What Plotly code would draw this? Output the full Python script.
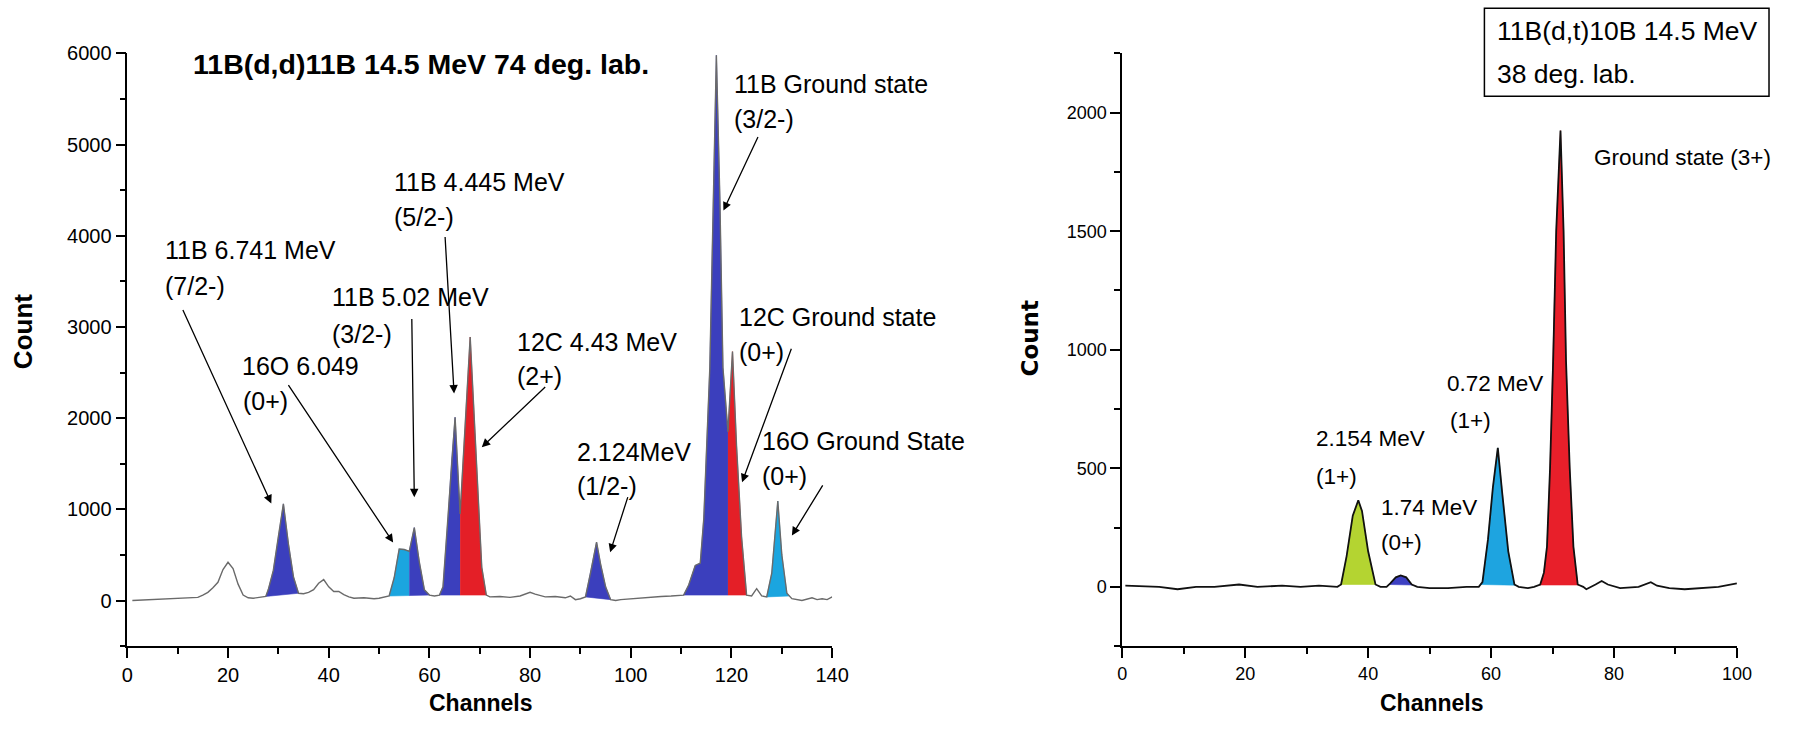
import numpy as np
import plotly.graph_objects as go

# page is 1803x735; the default 8px body margin surrounds the figure
PAGE_W, PAGE_H, PAD = 1803, 735, 8
W, H = PAGE_W - 2 * PAD, PAGE_H - 2 * PAD

# ---------------- 11B(d,d)11B spectrum (left panel) ----------------
dd_channel = [1, 3, 5, 8, 10, 12, 14, 15, 16, 17, 18, 19, 20, 21, 22, 23, 24, 25, 26, 27,
              27.5, 28, 29, 30, 31, 32, 33, 34, 35, 36, 37, 38, 39, 40, 41, 42, 43, 44, 45,
              47, 49, 50, 51, 52, 53, 54, 55, 56, 57, 58, 59, 60, 61, 62, 62.7, 63.7, 64.4,
              65.1, 66.1, 68.1, 69.4, 70.4, 71.3, 72, 74, 76, 78, 80, 81, 83, 85, 87, 88, 89,
              90, 91, 92, 93.2, 94, 95, 96, 97, 98, 100, 102, 104, 106, 108, 110.5, 111.5,
              112.8, 113.8, 114.5, 115.7, 116.4, 117, 117.7, 118.3, 119.3, 120.2, 121, 122,
              123, 124, 125, 126, 127, 128, 129.2, 130, 131, 132, 134, 136, 137, 138, 139, 140]
dd_count = [0, 5, 10, 15, 20, 25, 35, 60, 90, 140, 200, 340, 420, 350, 180, 60, 30, 25, 30, 35,
            45, 120, 330, 700, 1060, 620, 260, 80, 75, 90, 120, 190, 230, 150, 100, 100, 65, 40, 25,
            30, 20, 25, 35, 50, 250, 565, 560, 540, 800, 420, 120, 60, 50, 60, 150, 910, 1530,
            2010, 950, 2890, 1460, 365, 60, 40, 45, 35, 50, 90, 70, 40, 45, 30, 50, 10,
            20, 40, 300, 640, 400, 150, 10, 0, 10, 20, 30, 40, 45, 50, 60, 170,
            385, 410, 900, 2555, 4385, 5980, 4385, 2555, 1850, 2730, 1700, 700,
            60, 50, 130, 50, 40, 300, 1090, 500, 80, 20, 0, 30, 10, 20, 10, 40]

# shaded peaks: groups of adjacent (start, end, colour) channel ranges
BLUE, RED, CYAN = "#3b3fbd", "#e41f27", "#1ba5df"
dd_peaks = [
    [(27.5, 34, BLUE)],
    [(52, 56, CYAN), (56, 60, BLUE)],
    [(62, 66.1, BLUE), (66.1, 71.3, RED)],
    [(91, 96, BLUE)],
    [(110.5, 119.3, BLUE), (119.3, 123, RED)],
    [(127, 131.5, CYAN)],
]

# ---------------- 11B(d,t)10B spectrum (right panel) ----------------
dt_channel = [0.5, 3, 6, 9, 12, 15, 19, 22, 26, 29, 32, 35, 35.6, 36.5, 37.5, 38.4, 39, 40, 41.2,
              42, 43, 43.6, 44.5, 45.3, 46.2, 47.1, 48, 50, 53, 56, 58, 58.6, 59.5, 60.3, 61.1,
              61.8, 62.8, 63.8, 64.5, 66, 67, 68, 68.6, 69.1, 69.6, 70.1, 70.6, 71.3, 71.8,
              72.2, 72.8, 73.4, 74.1, 75, 75.5, 77, 78, 79, 81, 84, 86, 87, 89, 91.5, 94, 97, 100]
dt_count = [5, 2, 0, -10, 0, 0, 10, 0, 5, 0, 5, 0, 10, 130, 300, 365, 320, 150, 10,
            0, 0, 15, 40, 48, 40, 10, 0, -5, -5, 0, 0, 20, 200, 420, 586,
            400, 150, 10, 0, -5, 0, 10, 60, 170, 500, 950, 1500, 1924, 1500,
            950, 500, 170, 10, 0, -10, 10, 25, 10, -5, 0, 20, 5, -5, -10, -5, 0, 15]

dt_peaks = [
    [(35.6, 41.2, "#b4d431")],
    [(43.4, 47.3, "#3d40c2")],
    [(58.3, 64.0, "#1ea4e0")],
    [(67.8, 74.3, "#e81f2a")],
]

# arrows: (head channel, head count, tail channel, tail count)
dd_arrows = [
    (28.6, 1064, 10.9, 3202),
    (52.8, 636, 31.8, 2379),
    (57.0, 1133, 56.5, 3103),
    (64.9, 2270, 63.1, 4002),
    (70.4, 1681, 83.3, 2357),
    (118.4, 4276, 125.4, 5099),
    (122.1, 1297, 132.0, 2777),
    (95.9, 530, 99.5, 1151),
    (132.0, 713, 138.3, 1280),
]

FONT = "Liberation Sans, Arial, sans-serif"


def peak_polygons(ch, cnt, groups):
    ch = np.asarray(ch, float)
    cnt = np.asarray(cnt, float)
    out = []
    for group in groups:
        ga, gb = group[0][0], group[-1][1]
        ya, yb = np.interp(ga, ch, cnt), np.interp(gb, ch, cnt)

        def floor(c):
            return ya + (yb - ya) * (c - ga) / (gb - ga)

        for a, b, col in group:
            inner = (ch > a) & (ch < b)
            xs = [a] + list(ch[inner]) + [b, b, a]
            ys = ([np.interp(a, ch, cnt)] + list(cnt[inner]) +
                  [np.interp(b, ch, cnt), floor(b), floor(a)])
            out.append((xs, ys, col))
    return out


fig = go.Figure()

for xs, ys, col in peak_polygons(dd_channel, dd_count, dd_peaks):
    fig.add_trace(go.Scatter(x=xs, y=ys, fill="toself", fillcolor=col, mode="lines",
                             line=dict(width=0.6, color=col), hoverinfo="skip",
                             xaxis="x", yaxis="y", showlegend=False))
fig.add_trace(go.Scatter(x=dd_channel, y=dd_count, mode="lines",
                         line=dict(color="#6a6a6a", width=1.4), xaxis="x", yaxis="y",
                         showlegend=False))

for xs, ys, col in peak_polygons(dt_channel, dt_count, dt_peaks):
    fig.add_trace(go.Scatter(x=xs, y=ys, fill="toself", fillcolor=col, mode="lines",
                             line=dict(width=0.6, color=col), hoverinfo="skip",
                             xaxis="x2", yaxis="y2", showlegend=False))
fig.add_trace(go.Scatter(x=dt_channel, y=dt_count, mode="lines",
                         line=dict(color="#111111", width=1.8), xaxis="x2", yaxis="y2",
                         showlegend=False))


def PX(x):
    """page x pixel -> paper fraction"""
    x = min(x * 1.0134 + 1.8, PAGE_W - PAD - 1)
    return (x - PAD) / W


def PY(y):
    """page y pixel (from top) -> paper fraction"""
    y = y * 1.0152 - 2.8
    return 1 - (y - PAD) / H


def label(text, x, y, size, bold=False, family=FONT, anchor="left", angle=0):
    return dict(x=PX(x), y=PY(y), xref="paper", yref="paper",
                text=f"<b>{text}</b>" if bold else text,
                showarrow=False, xanchor=anchor, yanchor="middle", textangle=angle,
                font=dict(family=family, size=size, color="black"))


ann = []
# left panel labels
ann.append(label("11B(d,d)11B 14.5 MeV 74 deg. lab.", 191, 64, 28.5, bold=True))
left_labels = [
    ("11B 6.741 MeV", 163, 250), ("(7/2-)", 163, 286),
    ("11B 5.02 MeV", 330, 297), ("(3/2-)", 330, 334),
    ("11B 4.445 MeV", 392, 182), ("(5/2-)", 392, 217),
    ("16O 6.049", 240, 366), ("(0+)", 241, 401),
    ("12C 4.43 MeV", 515, 342), ("(2+)", 515, 376),
    ("11B Ground state", 732, 84), ("(3/2-)", 732, 119),
    ("12C Ground state", 737, 317), ("(0+)", 737, 352),
    ("2.124MeV", 575, 452), ("(1/2-)", 575, 486),
    ("16O Ground State", 760, 441), ("(0+)", 760, 476),
]
for t, x, y in left_labels:
    ann.append(label(t, x, y, 25))

for hx, hy, tx, ty in dd_arrows:
    ann.append(dict(x=hx, y=hy, ax=tx, ay=ty, xref="x", yref="y", axref="x", ayref="y",
                    text="", showarrow=True, arrowhead=2, arrowsize=1.3, arrowwidth=1.3,
                    arrowcolor="black", standoff=0, startstandoff=0))

# right panel labels
right_labels = [
    ("Ground state (3+)", 1592, 157),
    ("0.72 MeV", 1445, 383), ("(1+)", 1448, 420),
    ("2.154 MeV", 1314, 438), ("(1+)", 1314, 476),
    ("1.74 MeV", 1379, 507), ("(0+)", 1379, 542),
]
for t, x, y in right_labels:
    ann.append(label(t, x, y, 22.5))
ann.append(label("11B(d,t)10B 14.5 MeV", 1495, 31, 26.5))
ann.append(label("38 deg. lab.", 1495, 74, 26.5))

# axis titles
ann.append(label("Count", 23, 331, 26, bold=True, anchor="center", angle=-90))
ann.append(label("Channels", 481, 703, 23, bold=True, anchor="center"))
ann.append(label("Count", 1030, 338, 23, bold=True, family="DejaVu Sans, sans-serif",
                 anchor="center", angle=-90))
ann.append(label("Channels", 1432, 703, 23, bold=True, anchor="center"))

x1a, x1b = PX(127.4), PX(832)
x2a, x2b = PX(1122), PX(1736.4)
ya, yb = PY(646), PY(53)

axis_common = dict(showline=True, linecolor="black", ticks="outside", tickcolor="black",
                   showgrid=False, zeroline=False, tickformat="d", ticklen=10, tickwidth=1.5)

fig.update_layout(
    width=W, height=H, margin=dict(l=0, r=0, t=0, b=0),
    paper_bgcolor="white", plot_bgcolor="white", showlegend=False,
    annotations=ann,
    shapes=[dict(type="rect", xref="paper", yref="paper",
                 x0=PX(1484), x1=PX(1799), y0=PY(96), y1=PY(8),
                 line=dict(color="black", width=1.5), fillcolor="white", layer="below")],
    xaxis=dict(domain=[x1a, x1b], range=[0, 140], anchor="y", tick0=0, dtick=20,
               linewidth=2.2, minor=dict(dtick=10, ticklen=6, ticks="outside",
                                         tickcolor="black", tickwidth=1.5),
               tickfont=dict(family=FONT, size=20, color="black"), **axis_common),
    yaxis=dict(domain=[ya, yb], range=[-500, 6000], anchor="x", tick0=0, dtick=1000,
               linewidth=1.6, minor=dict(dtick=500, ticklen=6, ticks="outside",
                                         tickcolor="black", tickwidth=1.5),
               tickfont=dict(family=FONT, size=20, color="black"), **axis_common),
    xaxis2=dict(domain=[x2a, x2b], range=[0, 100], anchor="y2", tick0=0, dtick=20,
                linewidth=2.4, minor=dict(dtick=10, ticklen=6, ticks="outside",
                                          tickcolor="black", tickwidth=1.5),
                tickfont=dict(family=FONT, size=18, color="black"), **axis_common),
    yaxis2=dict(domain=[ya, yb], range=[-250, 2250], anchor="x2", tick0=0, dtick=500,
                linewidth=1.6, minor=dict(dtick=250, ticklen=6, ticks="outside",
                                          tickcolor="black", tickwidth=1.5),
                tickfont=dict(family=FONT, size=18, color="black"), **axis_common),
)

fig.write_html("out.html")
